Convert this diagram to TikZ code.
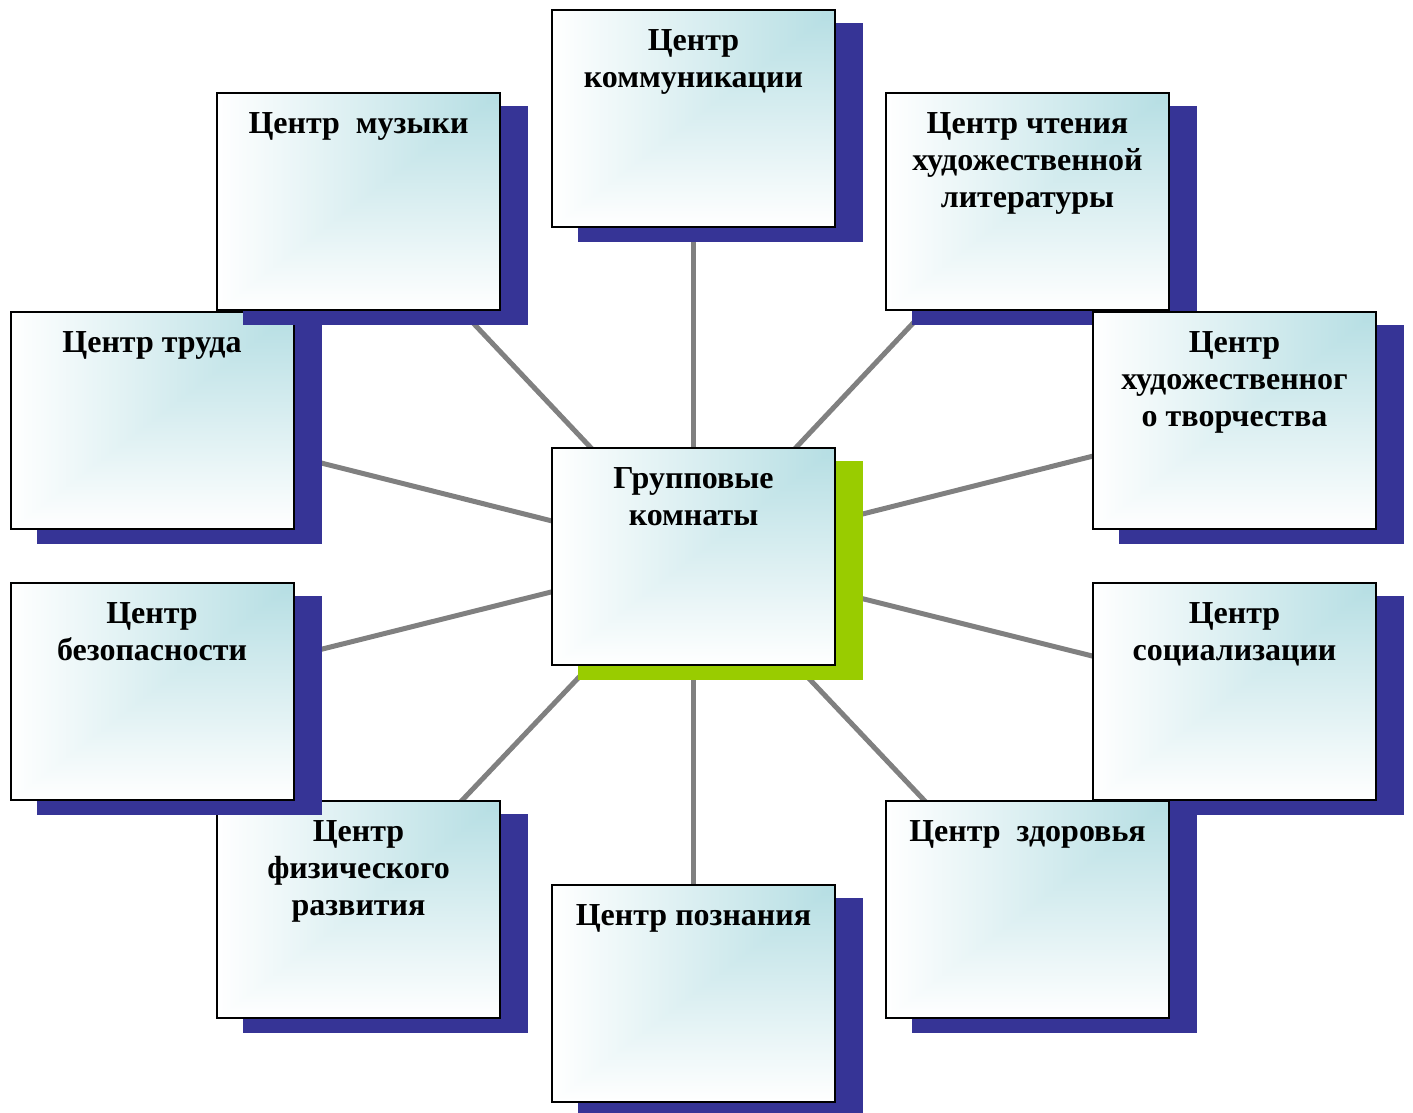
\documentclass[tikz,border=0pt]{standalone}
\usepackage{fontspec}
\setmainfont{Liberation Serif}
\usetikzlibrary{shadows,backgrounds}
\definecolor{navyshadow}{RGB}{54,52,150}
\definecolor{greenshadow}{RGB}{153,204,0}
\definecolor{linkgray}{RGB}{128,128,128}
\pgfdeclarefunctionalshading{cornerfade}{\pgfpoint{0bp}{0bp}}{\pgfpoint{100bp}{100bp}}{}{
75 exch sub 50 div exch 75 exch sub 50 div 2 copy lt {exch} if pop 1.0 div 1 exch sub dup 0 lt {pop 0} if dup dup 0.29 mul 1 exch sub 3 1 roll 0.13 mul 1 exch sub exch 0.11 mul 1 exch sub
}
\tikzset{
  box/.style={rectangle, draw=black, line width=2pt, shading=cornerfade,
    minimum width=283pt, minimum height=217pt, inner sep=0pt, outer sep=0pt,
    drop shadow={shadow xshift=27pt, shadow yshift=-14pt, fill=#1, draw=#1, line width=2pt, opacity=1}},
  box/.default=navyshadow,
  lbl/.style={anchor=north, inner sep=0pt, align=center,
    font=\fontsize{32}{37.3}\selectfont\bfseries},
  link/.style={draw=linkgray, line width=5pt}
}
\newcommand{\fl}{\rule{0pt}{30pt}}
\begin{document}
\begin{tikzpicture}[x=1pt,y=-1pt]
\useasboundingbox (0,0) rectangle (1413,1113);
% boxes in drawing order
\node[box=greenshadow] (hub) at (693.5,556.5) {};
\node[lbl] (hubt) at ([yshift=-10pt]hub.north) {\fl Групповые\\комнаты};
\node[box] (comm) at (693.5,118.5) {};
\node[lbl] (commt) at ([yshift=-10pt]comm.north) {\fl Центр\\коммуникации};
\node[box] (read) at (1027.5,201.5) {};
\node[lbl] (readt) at ([yshift=-10pt]read.north) {\fl Центр чтения\\художественной\\литературы};
\node[box] (art) at (1234.5,420.5) {};
\node[lbl] (artt) at ([yshift=-10pt]art.north) {\fl Центр\\художественног\\о творчества};
\node[box] (soc) at (1234.5,691.5) {};
\node[lbl] (soct) at ([yshift=-10pt]soc.north) {\fl Центр\\социализации};
\node[box] (health) at (1027.5,909.5) {};
\node[lbl] (healtht) at ([yshift=-10pt]health.north) {\fl Центр~~здоровья};
\node[box] (cogn) at (693.5,993.5) {};
\node[lbl] (cognt) at ([yshift=-10pt]cogn.north) {\fl Центр познания};
\node[box] (phys) at (358.5,909.5) {};
\node[lbl] (physt) at ([yshift=-10pt]phys.north) {\fl Центр\\физического\\развития};
\node[box] (safe) at (152,691.5) {};
\node[lbl] (safet) at ([yshift=-10pt]safe.north) {\fl Центр\\безопасности};
\node[box] (work) at (152,420.5) {};
\node[lbl] (workt) at ([yshift=-10pt]work.north) {\fl Центр труда};
\node[box] (music) at (358.5,201.5) {};
\node[lbl] (musict) at ([yshift=-10pt]music.north) {\fl Центр~~музыки};
% connectors behind everything
\begin{scope}[on background layer]
  \foreach \t in {comm,read,art,soc,health,cogn,phys,safe,work,music}
    \draw[link] (hub.center) -- (\t.center);
\end{scope}
\end{tikzpicture}
\end{document}
